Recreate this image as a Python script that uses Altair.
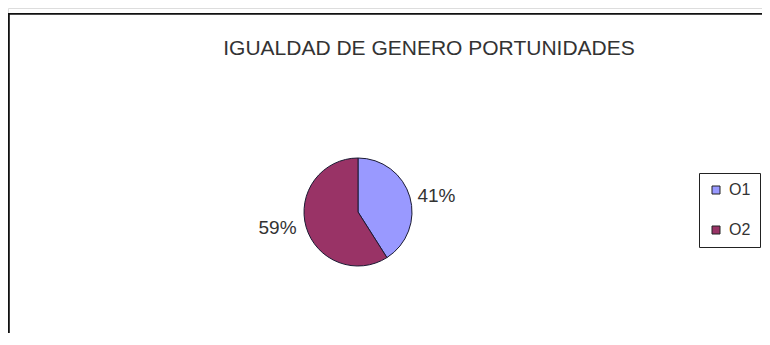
import altair as alt
import pandas as pd

title_text = "IGUALDAD DE GENERO PORTUNIDADES"
categories = ["O1", "O2"]
values = [41, 59]
labels = ["41%", "59%"]
colors = ["#9999FF", "#993366"]

df = pd.DataFrame({"cat": categories, "val": values, "lab": labels})

FONT = "Liberation Sans"

base = alt.Chart(df).encode(
    theta=alt.Theta("val:Q", stack=True),
    order=alt.Order("cat:N"),
)

pie = base.mark_arc(stroke="#1a1a33", strokeWidth=1, radius=54).encode(
    color=alt.Color(
        "cat:N",
        scale=alt.Scale(domain=categories, range=colors),
        legend=alt.Legend(
            title=None,
            orient="none",
            legendX=691,
            legendY=165,
            symbolType="square",
            symbolSize=64,
            symbolStrokeColor="#222",
            symbolStrokeWidth=1,
            labelFont=FONT,
            labelFontSize=16,
            labelColor="#333",
            labelOffset=5,
            rowPadding=24,
            padding=9,
            strokeColor="#222",
        ),
    ),
    x=alt.value(350),
    y=alt.value(204),
)

text = base.mark_text(
    radius=81, thetaOffset=0.087, font=FONT, fontSize=19, color="#333"
).encode(
    text="lab:N",
    x=alt.value(349),
    y=alt.value(204),
)

title = alt.Chart(pd.DataFrame({"t": [title_text]})).mark_text(
    font=FONT, fontSize=21, color="#333", align="center", baseline="alphabetic"
).encode(text="t:N", x=alt.value(421), y=alt.value(47))

frame = alt.Chart(df).mark_rect(fill=None, stroke="#111", strokeWidth=1.5).encode(
    x=alt.value(0.8), x2=alt.value(900), y=alt.value(5.8), y2=alt.value(500)
)

chart = (
    alt.layer(frame, title, pie, text)
    .properties(
        width=754,
        height=325,
        padding=0,
        autosize=alt.AutoSizeParams(type="none"),
    )
    .configure_view(stroke=None)
    .configure(background="white")
)

chart.save("out.html", embed_options={"renderer": "svg", "actions": False})
